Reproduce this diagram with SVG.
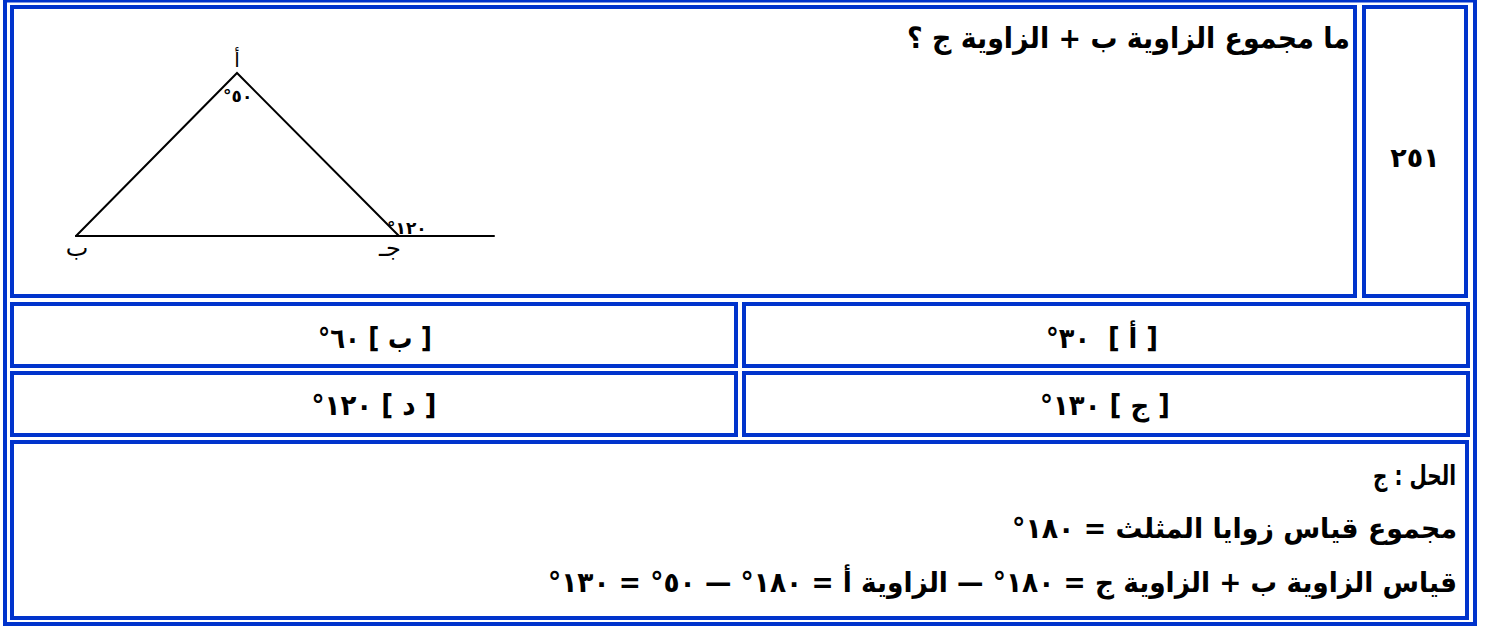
<svg xmlns="http://www.w3.org/2000/svg" width="1485" height="627" viewBox="0 0 1485 627">
<style>
.cell{fill:none;stroke:#0033cc;stroke-width:4}
.ar{font-family:"DejaVu Sans",sans-serif;font-weight:bold;fill:#000}
.lbl{font-family:"DejaVu Sans","Liberation Sans",sans-serif;fill:#000}
.tri{stroke:#000;stroke-width:2;fill:none;stroke-linecap:round;stroke-linejoin:miter}
</style>
<rect width="1485" height="627" fill="#fff"/>
<g id="frame"><rect class="cell" x="5" y="0.5" width="1470" height="623.5"/></g>
<g id="question">
  <rect class="cell" x="12" y="7" width="1343" height="289"/>
  <text class="ar" x="1350" y="48" direction="rtl" text-anchor="start" font-size="29" textLength="443" lengthAdjust="spacingAndGlyphs">ما مجموع الزاوية ب + الزاوية ج ؟</text>
  <g id="triangle">
    <polyline class="tri" points="76,236 237,73 399,236"/>
    <line class="tri" x1="76" y1="236" x2="494" y2="236"/>
    <text class="lbl" x="237" y="67" text-anchor="middle" font-size="20">أ</text>
    <text class="lbl" x="77" y="256" text-anchor="middle" font-size="24">ب</text>
    <text class="lbl" x="390" y="256" text-anchor="middle" font-size="24">جـ</text>
    <text class="lbl" x="223" y="102" direction="ltr" font-size="17" font-weight="bold">°٥٠</text>
    <text class="lbl" x="387" y="234" direction="ltr" font-size="17" font-weight="bold">°١٢٠</text>
  </g>
</g>
<g id="number">
  <rect class="cell" x="1364" y="7" width="102" height="289"/>
  <text class="ar" x="1415" y="167" text-anchor="middle" font-size="27">٢٥١</text>
</g>
<g id="option-a">
  <rect class="cell" x="744" y="304" width="724" height="62"/>
  <text class="ar" x="1102" y="348" direction="rtl" text-anchor="middle" font-size="28" textLength="112" lengthAdjust="spacingAndGlyphs" xml:space="preserve">[ أ ]  ٣٠°</text>
</g>
<g id="option-b">
  <rect class="cell" x="12" y="304" width="724" height="62"/>
  <text class="ar" x="375" y="348" direction="rtl" text-anchor="middle" font-size="28" textLength="114" lengthAdjust="spacingAndGlyphs">[ ب ] ٦٠°</text>
</g>
<g id="option-c">
  <rect class="cell" x="744" y="373" width="724" height="62"/>
  <text class="ar" x="1105" y="415" direction="rtl" text-anchor="middle" font-size="28" textLength="130" lengthAdjust="spacingAndGlyphs">[ ج ] ١٣٠°</text>
</g>
<g id="option-d">
  <rect class="cell" x="12" y="373" width="724" height="62"/>
  <text class="ar" x="374" y="415" direction="rtl" text-anchor="middle" font-size="28" textLength="125" lengthAdjust="spacingAndGlyphs">[ د ] ١٢٠°</text>
</g>
<g id="solution">
  <rect class="cell" x="12" y="442" width="1455" height="176"/>
  <text class="ar" transform="translate(1456,485) scale(0.74,1)" x="0" y="0" direction="rtl" text-anchor="start" font-size="27">الحل : ج</text>
  <text class="ar" x="1457" y="538" direction="rtl" text-anchor="start" font-size="28" textLength="445" lengthAdjust="spacingAndGlyphs">مجموع قياس زوايا المثلث = ١٨٠°</text>
  <text class="ar" x="1457" y="592" direction="rtl" text-anchor="start" font-size="28" textLength="909" lengthAdjust="spacingAndGlyphs">قياس الزاوية ب + الزاوية ج = ١٨٠° — الزاوية أ = ١٨٠° — ٥٠° = ١٣٠°</text>
</g>
</svg>
